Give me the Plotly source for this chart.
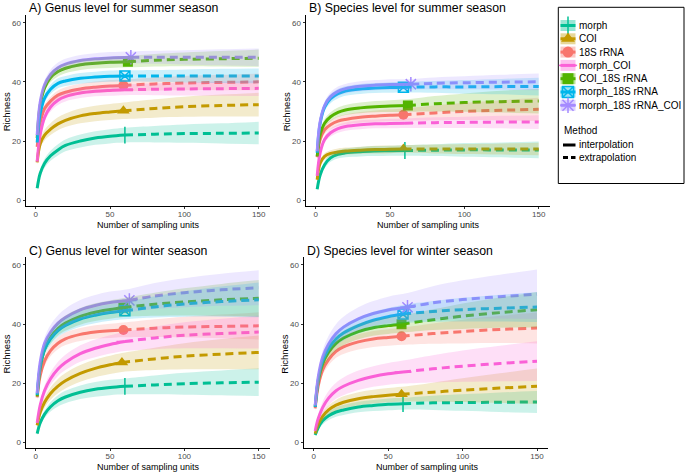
import plotly.graph_objects as go

W, H = 685, 473
FONT = "Liberation Sans, Arial, sans-serif"

SERIES = ["morph", "COI", "18S rRNA", "morph_COI", "COI_18S rRNA",
          "morph_18S rRNA", "morph_18S rRNA_COI"]
COLORS = ["#00C094", "#C49A00", "#F8766D", "#FB61D7", "#53B400", "#00B6EB", "#A58AFF"]
SYMBOLS = ["line-ns-open", "triangle-up", "circle", "line-ew-open", "square",
           "square-x-open", "asterisk-open"]
MSIZE = [12, 11, 10, 12, 10, 10, 12]

# sampling-unit grid (interpolated part ends at each series' reference size)
X_INTERP = [1, 3, 6, 10, 15, 20, 30, 40, 50]
X_EXTRAP = [80, 100, 125, 150]

# ---- Panel A: genus, summer
A_REF = [60, 59, 59, 60, 62, 60, 64]
A_MEAN = [
    [4, 9, 12.5, 15, 17, 18.5, 20, 21, 21.6, 22, 22.3, 22.5, 22.6, 22.7],
    [12.8, 19, 22, 24, 25.8, 27, 28.5, 29.3, 29.8, 30.2, 31, 31.6, 32, 32.3],
    [18, 26, 31, 33.5, 35.5, 36.5, 37.6, 38.2, 38.6, 38.8, 39.3, 39.6, 39.8, 40],
    [13, 22, 28, 31.5, 33.8, 35, 36.2, 36.8, 37.1, 37.3, 37.5, 37.6, 37.7, 37.8],
    [21, 32, 38, 41.5, 43.5, 44.6, 45.8, 46.3, 46.6, 46.8, 47.3, 47.6, 47.8, 48],
    [19.5, 29, 34.5, 37.5, 39.5, 40.3, 41.2, 41.6, 41.9, 42, 42, 42, 42, 42],
    [22, 33, 39, 42.5, 44.8, 46, 47.2, 47.8, 48.1, 48.3, 48.3, 48.3, 48.3, 48.3],
]
A_HALF = [
    [0.8, 1.2, 1.5, 1.7, 1.9, 2, 2.2, 2.3, 2.4, 2.5, 2.8, 3.1, 3.4, 3.8],
    [1, 1.5, 1.8, 2, 2.2, 2.3, 2.5, 2.6, 2.7, 2.8, 3.1, 3.4, 3.7, 4],
    [1, 1.2, 1.4, 1.5, 1.6, 1.7, 1.8, 1.9, 2, 2, 2.2, 2.4, 2.6, 2.8],
    [1, 1.2, 1.4, 1.5, 1.6, 1.6, 1.7, 1.7, 1.8, 1.8, 2, 2.2, 2.4, 2.6],
    [1, 1.3, 1.5, 1.6, 1.7, 1.7, 1.8, 1.8, 1.9, 1.9, 2.1, 2.3, 2.6, 2.9],
    [1, 1.3, 1.5, 1.6, 1.7, 1.7, 1.8, 1.8, 1.9, 1.9, 2, 2.2, 2.4, 2.5],
    [1, 1.3, 1.5, 1.6, 1.7, 1.8, 1.9, 1.9, 2, 2, 2.2, 2.4, 2.7, 3],
]

# ---- Panel B: species, summer
B_REF = [60, 59, 59, 60, 62, 59, 64]
B_MEAN = [
    [3.7, 8.5, 12, 14.3, 15.5, 16, 16.4, 16.6, 16.7, 16.8, 16.9, 17, 17, 17],
    [6.9, 12.5, 14.8, 15.8, 16.3, 16.6, 16.9, 17.1, 17.2, 17.3, 17.3, 17.3, 17.3, 17.3],
    [14.5, 20.5, 23.8, 25.5, 26.7, 27.3, 28, 28.4, 28.7, 28.9, 29.5, 30, 30.4, 30.7],
    [8.2, 16, 20.5, 22.8, 24.2, 24.9, 25.5, 25.8, 25.9, 26, 26.2, 26.3, 26.4, 26.4],
    [14.8, 22, 26, 28.2, 29.7, 30.5, 31.2, 31.6, 31.8, 32, 32.6, 33, 33.3, 33.5],
    [16, 26, 31.5, 34.3, 36, 36.9, 37.6, 37.9, 38.1, 38.2, 38.3, 38.3, 38.4, 38.4],
    [16.5, 26.5, 32, 35, 36.8, 37.7, 38.5, 38.9, 39.1, 39.2, 39.5, 39.7, 39.9, 40],
]
B_HALF = [
    [0.6, 1, 1.2, 1.3, 1.4, 1.5, 1.6, 1.7, 1.7, 1.8, 2, 2.3, 2.5, 2.8],
    [0.8, 1, 1.1, 1.1, 1.2, 1.2, 1.2, 1.3, 1.3, 1.3, 1.5, 1.7, 1.9, 2.1],
    [1, 1.2, 1.4, 1.5, 1.6, 1.7, 1.8, 1.9, 2, 2.1, 2.5, 2.9, 3.4, 3.9],
    [1, 1.1, 1.2, 1.3, 1.4, 1.4, 1.5, 1.5, 1.6, 1.6, 1.8, 1.9, 2.1, 2.3],
    [1, 1.2, 1.4, 1.5, 1.6, 1.7, 1.8, 1.9, 2, 2.1, 2.6, 3.1, 3.7, 4.2],
    [1, 1.2, 1.4, 1.5, 1.6, 1.6, 1.7, 1.7, 1.8, 1.8, 2, 2.3, 2.6, 3],
    [1, 1.2, 1.4, 1.5, 1.6, 1.6, 1.7, 1.7, 1.8, 1.8, 2, 2.2, 2.5, 2.8],
]

# ---- Panel C: genus, winter
C_REF = [60, 58, 59, 60, 59, 60, 63]
C_MEAN = [
    [2.9, 6.5, 9.5, 12, 14, 15.3, 16.9, 17.9, 18.5, 18.9, 19.4, 19.8, 20.1, 20.3],
    [5.7, 10, 13.5, 16.5, 19, 20.8, 23.3, 25, 26.2, 27, 28.2, 29.1, 29.8, 30.4],
    [15.2, 22.5, 27.5, 31, 33.5, 35, 36.5, 37.3, 37.7, 38, 38.6, 39, 39.2, 39.4],
    [6.5, 12.5, 17.5, 21.5, 24.8, 27, 30, 31.8, 33.1, 34.1, 35.3, 36.2, 36.8, 37.3],
    [15.5, 25, 31.5, 35.5, 38.5, 40.3, 42.6, 44, 44.9, 45.6, 46.7, 47.5, 48.2, 48.7],
    [16, 25.5, 31.5, 35, 37.8, 39.5, 41.7, 43, 43.9, 44.5, 45.8, 46.8, 47.6, 48.2],
    [16.5, 27, 33.5, 37.3, 40.3, 42.2, 44.8, 46.3, 47.3, 48, 49.5, 50.6, 51.6, 52.3],
]
C_HALF = [
    [0.6, 1, 1.3, 1.6, 1.9, 2.1, 2.3, 2.5, 2.6, 2.7, 3.2, 3.7, 4.2, 4.7],
    [1, 1.4, 1.8, 2.1, 2.4, 2.6, 2.8, 3, 3.1, 3.2, 3.8, 4.4, 5.1, 5.7],
    [1, 1.4, 1.7, 1.9, 2, 2.1, 2.2, 2.3, 2.4, 2.5, 3, 3.5, 4, 4.6],
    [1, 1.4, 1.8, 2.1, 2.4, 2.6, 2.8, 3, 3.1, 3.2, 3.8, 4.4, 5, 5.6],
    [1, 1.5, 1.9, 2.2, 2.4, 2.6, 2.8, 3, 3.1, 3.2, 3.9, 4.6, 5.4, 6.2],
    [1, 1.4, 1.8, 2, 2.2, 2.4, 2.6, 2.7, 2.8, 2.9, 3.6, 4.3, 5.1, 5.9],
    [1, 1.6, 2, 2.4, 2.7, 3, 3.3, 3.5, 3.7, 3.9, 4.4, 4.9, 5.4, 5.9],
]

# ---- Panel D: species, winter
D_REF = [60, 59, 59, 60, 59, 60, 63]
D_MEAN = [
    [2.5, 5, 7.3, 9, 10.3, 11, 12, 12.5, 12.9, 13.1, 13.4, 13.5, 13.6, 13.7],
    [3, 6, 8.8, 11, 12.6, 13.6, 14.8, 15.5, 16, 16.3, 17, 17.7, 18.4, 19],
    [11.5, 19, 24.5, 28, 30.8, 32.3, 34, 35, 35.5, 35.9, 36.8, 37.5, 38.2, 38.7],
    [3.9, 8, 11.8, 15, 17.5, 19, 21, 22.3, 23.2, 23.8, 24.9, 25.8, 26.7, 27.5],
    [12, 20.5, 26.5, 30.5, 33.5, 35.3, 37.5, 38.8, 39.5, 40, 41.5, 42.7, 43.9, 44.9],
    [12, 21, 27.5, 31.8, 35, 37, 39.5, 41.3, 42.5, 43.4, 44.3, 44.9, 45.4, 45.8],
    [12.5, 22, 28.8, 33.3, 36.8, 39, 41.8, 43.6, 44.8, 45.7, 47.2, 48.3, 49.3, 50.1],
]
D_HALF = [
    [0.5, 0.9, 1.2, 1.4, 1.6, 1.7, 1.8, 1.9, 2, 2, 2.4, 2.8, 3.3, 3.7],
    [0.7, 1.1, 1.4, 1.6, 1.8, 2, 2.2, 2.3, 2.4, 2.5, 3.2, 4, 5, 6],
    [1, 1.4, 1.8, 2, 2.2, 2.4, 2.6, 2.7, 2.8, 2.9, 3.4, 4, 4.6, 5.2],
    [1, 1.5, 2, 2.4, 2.7, 3, 3.3, 3.5, 3.7, 3.9, 4.6, 5.3, 6, 6.7],
    [1, 1.5, 1.8, 2.1, 2.3, 2.4, 2.6, 2.7, 2.8, 2.9, 3.5, 4.3, 5.1, 6],
    [1, 1.5, 1.8, 2.1, 2.3, 2.5, 2.7, 2.9, 3, 3.1, 3.5, 4, 4.5, 5.1],
    [1, 1.7, 2.3, 2.8, 3.2, 3.5, 3.9, 4.2, 4.5, 4.8, 5.6, 6.5, 7.4, 8.4],
]

TITLES = ["A) Genus level for summer season", "B) Species level for summer season",
          "C) Genus level for winter season", "D) Species level for winter season"]
PANELS = [(A_REF, A_MEAN, A_HALF), (B_REF, B_MEAN, B_HALF),
          (C_REF, C_MEAN, C_HALF), (D_REF, D_MEAN, D_HALF)]

X_TICKS = [0, 50, 100, 150]
Y_TICKS = [0, 20, 40, 60]
X_RANGE = [-6.45, 157.45]
Y_RANGE = [-1.8, 62.6]

# panel boxes in pixels: left, right, top, bottom
BOXES = [(26.1, 269.8, 15.0, 205.5), (306.1, 549.8, 15.0, 205.5),
         (26.1, 269.8, 257.3, 447.5), (304.1, 548.1, 257.3, 447.8)]


def rgba(hexc, a):
    h = hexc.lstrip("#")
    return "rgba(%d,%d,%d,%g)" % (int(h[0:2], 16), int(h[2:4], 16), int(h[4:6], 16), a)


def fx(px):
    return px / W


def fy(py):
    return 1 - py / H


fig = go.Figure()
layout = dict(width=W, height=H, margin=dict(l=0, r=0, t=0, b=0),
              paper_bgcolor="white", plot_bgcolor="rgba(0,0,0,0)", showlegend=False,
              font=dict(family=FONT))
annotations = []
shapes = []

for p, ((ref, mean, half), box) in enumerate(zip(PANELS, BOXES)):
    xa = "x" if p == 0 else "x%d" % (p + 1)
    ya = "y" if p == 0 else "y%d" % (p + 1)
    l, r, t, b = box
    axis_common = dict(showgrid=False, zeroline=False, showline=True, linecolor="black",
                       linewidth=1, ticks="outside", ticklen=2.5, tickwidth=1,
                       tickcolor="#333333",
                       tickfont=dict(size=8, color="#4D4D4D", family=FONT))
    layout["xaxis" if p == 0 else "xaxis%d" % (p + 1)] = dict(
        axis_common, domain=[fx(l), fx(r)], range=X_RANGE, tickvals=X_TICKS,
        anchor=ya, ticklabelstandoff=-2)
    layout["yaxis" if p == 0 else "yaxis%d" % (p + 1)] = dict(
        axis_common, domain=[fy(b), fy(t)], range=Y_RANGE, tickvals=Y_TICKS,
        anchor=xa)

    # points first (ggiNEXT draws points, lines, then ribbons)
    for j in range(len(SERIES)):
        c = COLORS[j]
        sym = SYMBOLS[j]
        open_sym = sym.endswith("-open")
        fig.add_trace(go.Scatter(
            x=[ref[j]], y=[mean[j][9]], xaxis=xa, yaxis=ya, mode="markers",
            marker=dict(symbol=sym, size=MSIZE[j], color=c,
                        line=dict(color=c, width=1.5 if open_sym else 0)),
            hoverinfo="skip"))
    for j in range(len(SERIES)):
        c = COLORS[j]
        xi = X_INTERP + [ref[j]]
        xe = [ref[j]] + X_EXTRAP
        fig.add_trace(go.Scatter(x=xi, y=mean[j][:10], xaxis=xa, yaxis=ya, mode="lines",
                                 line=dict(color=c, width=3, shape="spline"),
                                 hoverinfo="skip"))
        fig.add_trace(go.Scatter(x=xe, y=mean[j][9:], xaxis=xa, yaxis=ya, mode="lines",
                                 line=dict(color=c, width=3, dash="8px,5px", shape="spline"),
                                 hoverinfo="skip"))
    for j in range(len(SERIES)):
        c = COLORS[j]
        xs = X_INTERP + [ref[j]] + X_EXTRAP
        lo = [m - h for m, h in zip(mean[j], half[j])]
        hi = [m + h for m, h in zip(mean[j], half[j])]
        fig.add_trace(go.Scatter(x=xs, y=lo, xaxis=xa, yaxis=ya, mode="lines",
                                 line=dict(width=0, shape="spline", color=c),
                                 hoverinfo="skip"))
        fig.add_trace(go.Scatter(x=xs, y=hi, xaxis=xa, yaxis=ya, mode="lines",
                                 line=dict(width=0, shape="spline", color=c),
                                 fill="tonexty", fillcolor=rgba(c, 0.2),
                                 hoverinfo="skip"))

    # titles and axis labels
    annotations.append(dict(text=TITLES[p], x=fx(l + 1), y=fy(t - 6.5), xref="paper",
                            yref="paper", xanchor="left", yanchor="middle",
                            showarrow=False, font=dict(size=12.3, color="black", family=FONT)))
    annotations.append(dict(text="Number of sampling units", x=fx((l + r) / 2 + 1),
                            y=fy(b + 19.5), xref="paper", yref="paper",
                            xanchor="center", yanchor="middle", showarrow=False,
                            borderpad=0,
                            font=dict(size=9, color="black", family=FONT)))
    annotations.append(dict(text="Richness", x=fx(l - 20), y=fy((t + b) / 2 + 2),
                            xref="paper", yref="paper", textangle=-90,
                            xanchor="center", yanchor="middle", showarrow=False,
                            font=dict(size=9.5, color="black", family=FONT)))

# ---- legend drawn on an overlay axis in pixel units
layout["xaxis5"] = dict(domain=[0, 1], range=[0, W], visible=False, anchor="y5")
layout["yaxis5"] = dict(domain=[0, 1], range=[H, 0], visible=False, anchor="x5")

shapes.append(dict(type="rect", xref="x5", yref="y5", x0=558.3, x1=684, y0=7.3, y1=183.5,
                   line=dict(color="black", width=1), fillcolor="white", layer="below"))
LEG_Y = [25.5, 38.8, 52.1, 65.4, 78.7, 92, 105.3]
for j, name in enumerate(SERIES):
    cy = LEG_Y[j]
    c = COLORS[j]
    shapes.append(dict(type="rect", xref="x5", yref="y5", x0=560.5, x1=575.5, y0=cy - 5.5,
                       y1=cy + 5.5, line=dict(width=0), fillcolor=rgba(c, 0.4)))
    shapes.append(dict(type="line", xref="x5", yref="y5", x0=560.5, x1=575.5, y0=cy, y1=cy,
                       line=dict(color=c, width=3)))
    sym = SYMBOLS[j]
    fig.add_trace(go.Scatter(x=[568], y=[cy], xaxis="x5", yaxis="y5", mode="markers",
                             marker=dict(symbol=sym, size=MSIZE[j] + 1, color=c,
                                         line=dict(color=c, width=1.5 if sym.endswith("-open") else 0)),
                             hoverinfo="skip"))
    annotations.append(dict(text=name, x=fx(577), y=fy(cy), xref="paper", yref="paper",
                            xanchor="left", yanchor="middle", showarrow=False,
                            font=dict(size=10, color="black", family=FONT)))

annotations.append(dict(text="Method", x=fx(562), y=fy(130), xref="paper", yref="paper",
                        xanchor="left", yanchor="middle", showarrow=False,
                        font=dict(size=10, color="black", family=FONT)))
METHODS = ["interpolation", "extrapolation"]
METHOD_DASH = ["solid", "5px,3px"]
for k, (mname, md) in enumerate(zip(METHODS, METHOD_DASH)):
    cy = 145 + 12.5 * k
    shapes.append(dict(type="line", xref="x5", yref="y5", x0=563, x1=575.5, y0=cy, y1=cy,
                       line=dict(color="black", width=3, dash=md)))
    annotations.append(dict(text=mname, x=fx(577), y=fy(cy), xref="paper", yref="paper",
                            xanchor="left", yanchor="middle", showarrow=False,
                            font=dict(size=10, color="black", family=FONT)))

layout["annotations"] = annotations
layout["shapes"] = shapes
fig.update_layout(**layout)
fig.write_html("out.html", config={"staticPlot": True},
               post_script="document.body.style.margin='0';document.body.style.overflow='hidden';")
